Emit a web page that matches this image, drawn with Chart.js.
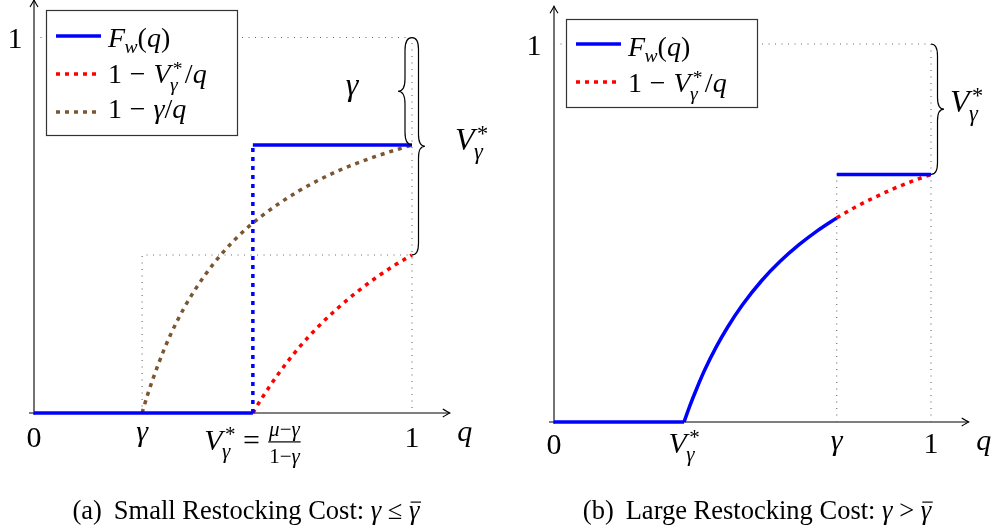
<!DOCTYPE html>
<html>
<head>
<meta charset="utf-8">
<script src="https://cdn.jsdelivr.net/npm/chart.js@4.4.0/dist/chart.umd.min.js"></script>
<style>
  html, body { margin: 0; padding: 0; background: #fff; }
  #wrap { position: relative; width: 992px; height: 532px; }
  canvas { position: absolute; top: 0; }
</style>
</head>
<body>
<div id="wrap">
  <canvas id="panelA" width="496" height="532" style="left:0"></canvas>
  <canvas id="panelB" width="496" height="532" style="left:496px"></canvas>
</div>
<script>
// ---- panel (a): small restocking cost ----
const gammaA = 0.286;
const vStarA = 0.579;
const qFwA = [0, 0.579, 0.579, 1];
const fwA = [0, 0, 0.714, 0.714];
const qRedA = [0.579, 0.60, 0.65, 0.70, 0.75, 0.80, 0.85, 0.90, 0.95, 1.0];
const redA = [0, 0.035, 0.109, 0.173, 0.228, 0.276, 0.319, 0.357, 0.391, 0.421];
const qBrownA = [0.286, 0.30, 0.33, 0.36, 0.40, 0.45, 0.50, 0.55, 0.60, 0.70, 0.80, 0.90, 1.0];
const brownA = [0, 0.047, 0.133, 0.206, 0.285, 0.364, 0.428, 0.480, 0.523, 0.591, 0.643, 0.682, 0.714];
const qGuide1A = [0, 1, 1], guide1A = [1, 1, 0];
const qGuide2A = [0.286, 0.286, 1], guide2A = [0, 0.421, 0.421];

// ---- panel (b): large restocking cost ----
const gammaB = 0.75;
const vStarB = 0.345;
const qFwLowB = [0, 0.345], fwLowB = [0, 0];
const qFwCurveB = [0.345, 0.36, 0.38, 0.40, 0.43, 0.46, 0.50, 0.55, 0.60, 0.65, 0.70, 0.75];
const fwCurveB = [0, 0.042, 0.092, 0.138, 0.198, 0.25, 0.31, 0.373, 0.425, 0.469, 0.507, 0.54];
const qFwHighB = [0.75, 1], fwHighB = [0.655, 0.655];
const qRedB = [0.75, 0.80, 0.85, 0.90, 0.95, 1.0];
const redB = [0.54, 0.569, 0.594, 0.617, 0.637, 0.655];
const qGuide1B = [0, 1, 1], guide1B = [1, 1, 0];
const qGuide2B = [0.75, 0.75], guide2B = [0, 0.655];

const BLUE = '#0000ff', RED = '#ff0000', BROWN = 'rgb(122,86,50)', GUIDE = '#666';
const DOT = [4, 5];
const SERIF = '"Liberation Serif", "DejaVu Serif", serif';

function pts(qs, vs) {
  return qs.map((q, i) => ({ x: q, y: vs[i] }));
}

function setFont(ctx, size, it) {
  ctx.font = (it ? 'italic ' : '') + size + 'px ' + SERIF;
}

// tiny math typesetter: strings are upright, {i:..} italic, {sup,sub}, {num,den}, {bar}, {gap}
function drawRun(ctx, run, x, y, size, paint) {
  let cx = x;
  for (const tk of run) {
    if (typeof tk === 'string' || tk.i !== undefined) {
      const it = typeof tk !== 'string';
      const s = it ? tk.i : tk;
      setFont(ctx, size, it);
      if (paint) ctx.fillText(s, cx, y);
      cx += ctx.measureText(s).width;
    } else if (tk.gap !== undefined) {
      cx += tk.gap * size;
    } else if (tk.num) {
      const s = size * 0.7;
      const wn = drawRun(ctx, tk.num, 0, 0, s, false);
      const wd = drawRun(ctx, tk.den, 0, 0, s, false);
      const w = Math.max(wn, wd) + 0.12 * size;
      const axis = y - 0.27 * size;
      if (paint) {
        drawRun(ctx, tk.num, cx + (w - wn) / 2, axis - 0.2 * size, s, true);
        drawRun(ctx, tk.den, cx + (w - wd) / 2, axis + 0.7 * size, s, true);
        ctx.fillRect(cx + 0.03 * size, axis - 0.02 * size, w - 0.06 * size, Math.max(1, 0.04 * size));
      }
      cx += w;
    } else if (tk.sup || tk.sub) {
      const s = size * 0.7;
      let w = 0;
      if (tk.sup) w = Math.max(w, drawRun(ctx, tk.sup, cx + 0.08 * size, y - 0.3 * size, s, paint) - cx);
      if (tk.sub) w = Math.max(w, drawRun(ctx, tk.sub, cx - 0.02 * size, y + (tk.dy || 0.28) * size, s, paint) - cx);
      cx += w;
    } else if (tk.bar) {
      const x0 = cx;
      cx = drawRun(ctx, tk.bar, cx, y, size, paint);
      if (paint) ctx.fillRect(x0 + 0.06 * size, y - 0.66 * size, cx - x0, Math.max(1, 0.045 * size));
    }
  }
  return cx;
}

function mathText(ctx, run, x, y, size, align) {
  const w = drawRun(ctx, run, 0, 0, size, false);
  const x0 = align === 'center' ? x - w / 2 : x;
  drawRun(ctx, run, x0, y, size, true);
}

function arrowHead(ctx, x, y, dir) {
  ctx.beginPath();
  if (dir === 'r') {
    ctx.moveTo(x - 7, y - 4);
    ctx.quadraticCurveTo(x - 2, y - 1, x, y);
    ctx.quadraticCurveTo(x - 2, y + 1, x - 7, y + 4);
  } else {
    ctx.moveTo(x - 4, y + 7);
    ctx.quadraticCurveTo(x - 1, y + 2, x, y);
    ctx.quadraticCurveTo(x + 1, y + 2, x + 4, y + 7);
  }
  ctx.stroke();
}

function brace(ctx, x, y1, y2, amp) {
  // vertical curly brace, tip points right when amp > 0
  const m = (y1 + y2) / 2, h = amp / 2;
  const r = Math.min(Math.abs(amp) * 0.9, (y2 - y1) / 4);
  ctx.beginPath();
  ctx.moveTo(x, y1);
  ctx.quadraticCurveTo(x + h, y1, x + h, y1 + r);
  ctx.lineTo(x + h, m - r);
  ctx.quadraticCurveTo(x + h, m, x + amp, m);
  ctx.quadraticCurveTo(x + h, m, x + h, m + r);
  ctx.lineTo(x + h, y2 - r);
  ctx.quadraticCurveTo(x + h, y2, x, y2);
  ctx.stroke();
}

function legendBox(ctx, box, rows) {
  ctx.save();
  ctx.fillStyle = '#fff';
  ctx.fillRect(box.x, box.y, box.w, box.h);
  ctx.strokeStyle = '#333';
  ctx.lineWidth = 1.2;
  ctx.strokeRect(box.x + 0.5, box.y + 0.5, box.w, box.h);
  rows.forEach(r => {
    ctx.strokeStyle = r.color;
    ctx.lineWidth = 3.5;
    ctx.setLineDash(r.dash || []);
    ctx.beginPath();
    ctx.moveTo(box.x + 10, r.y);
    ctx.lineTo(box.x + 55, r.y);
    ctx.stroke();
    ctx.setLineDash([]);
    ctx.fillStyle = '#000';
    mathText(ctx, r.text, box.x + 62, r.base, 28, 'left');
  });
  ctx.restore();
}

const V_STAR = [{ i: 'V' }, { sup: ['*'], sub: [{ i: 'γ' }] }];
const FW = [{ i: 'F' }, { sub: [{ i: 'w' }], dy: 0.2 }, '(', { i: 'q' }, ')'];
const RED_TXT = ['1', { gap: 0.28 }, '−', { gap: 0.28 }].concat(V_STAR, [{ gap: 0.08 }, '/', { i: 'q' }]);
const BROWN_TXT = ['1', { gap: 0.28 }, '−', { gap: 0.28 }, { i: 'γ' }, '/', { i: 'q' }];

function makePanel(id, geo, datasets, decorate) {
  const ux = geo.ux, uy = geo.uy;
  return new Chart(document.getElementById(id), {
    type: 'line',
    data: { datasets: datasets },
    options: {
      responsive: false,
      animation: false,
      layout: {
        padding: {
          left: geo.x0,
          right: 496 - geo.x0 - 1.15 * ux,
          top: geo.y0 - 1.1 * uy,
          bottom: 532 - geo.y0
        }
      },
      scales: {
        x: { type: 'linear', min: 0, max: 1.15, display: false },
        y: { type: 'linear', min: 0, max: 1.1, display: false }
      },
      elements: { point: { radius: 0 }, line: { borderCapStyle: 'butt' } },
      plugins: { legend: { display: false }, tooltip: { enabled: false } }
    },
    plugins: [{
      id: 'axes',
      beforeDatasetsDraw(chart) {
        const ctx = chart.ctx, X = chart.scales.x, Y = chart.scales.y;
        const x0 = X.getPixelForValue(0), y0 = Y.getPixelForValue(0);
        const xe = X.getPixelForValue(1.1), ye = Y.getPixelForValue(1.1);
        ctx.save();
        ctx.strokeStyle = '#000';
        ctx.lineWidth = 1.1;
        ctx.beginPath();
        ctx.moveTo(x0 - 5, y0);
        ctx.lineTo(xe, y0);
        ctx.moveTo(x0, y0 + 2);
        ctx.lineTo(x0, ye);
        ctx.stroke();
        arrowHead(ctx, xe, y0, 'r');
        arrowHead(ctx, x0, ye, 'u');
        ctx.restore();
      },
      afterDatasetsDraw(chart) {
        const ctx = chart.ctx, X = chart.scales.x, Y = chart.scales.y;
        ctx.save();
        ctx.fillStyle = '#000';
        ctx.strokeStyle = '#000';
        ctx.textBaseline = 'alphabetic';
        decorate(ctx, v => X.getPixelForValue(v), v => Y.getPixelForValue(v));
        ctx.restore();
      }
    }]
  });
}

function line(data, color, extra) {
  return Object.assign({
    data: data, borderColor: color, borderWidth: 3.5, fill: false,
    pointRadius: 0, tension: 0, clip: false
  }, extra || {});
}

const curve = { cubicInterpolationMode: 'monotone' };
const guide = { borderWidth: 1.1, borderDash: [1, 5.5] };

// panel (a)
makePanel('panelA', { x0: 34, y0: 413, ux: 378, uy: 377 }, [
  line(pts(qFwA, fwA), BLUE, { segment: { borderDash: c => (c.p0DataIndex === 1 ? DOT : undefined) } }),
  line(pts(qRedA, redA), RED, Object.assign({ borderDash: DOT }, curve)),
  line(pts(qBrownA, brownA), BROWN, Object.assign({ borderDash: DOT }, curve)),
  line(pts(qGuide1A, guide1A), GUIDE, guide),
  line(pts(qGuide2A, guide2A), GUIDE, guide)
], (ctx, x, y) => {
  const T = 30, y0 = y(0);
  mathText(ctx, ['0'], x(0), y0 + 34, T, 'center');
  mathText(ctx, [{ i: 'γ' }], x(gammaA), y0 + 28, T, 'center');
  mathText(ctx, V_STAR.concat([{ gap: 0.25 }, '=', { gap: 0.25 },
    { num: [{ i: 'μ' }, '−', { i: 'γ' }], den: ['1−', { i: 'γ' }] }]), x(vStarA), y0 + 37, T, 'center');
  mathText(ctx, ['1'], x(1), y0 + 34, T, 'center');
  mathText(ctx, [{ i: 'q' }], x(1.1) + 15, y0 + 28, T, 'center');
  mathText(ctx, ['1'], x(0) - 19, y(1) + 10, T, 'center');

  ctx.lineWidth = 1.2;
  brace(ctx, x(1), y(1), y(1 - gammaA), -14);
  brace(ctx, x(1), y(1), y(1 - vStarA), 13);
  mathText(ctx, [{ i: 'γ' }], x(1) - 60, (y(1) + y(1 - gammaA)) / 2 + 4, 32, 'center');
  mathText(ctx, V_STAR, x(1) + 43, (y(1) + y(1 - vStarA)) / 2 + 4, 32, 'left');

  legendBox(ctx, { x: 46, y: 10, w: 191, h: 125 }, [
    { color: BLUE, y: 36, base: 47, text: FW },
    { color: RED, dash: DOT, y: 74, base: 83, text: RED_TXT },
    { color: BROWN, dash: DOT, y: 112, base: 118, text: BROWN_TXT }
  ]);

  mathText(ctx, ['(a)', { gap: 0.45 }, 'Small Restocking Cost: ', { i: 'γ' }, ' ≤ ', { bar: [{ i: 'γ' }] }],
    246, 519, 26.5, 'center');
});

// panel (b)
makePanel('panelB', { x0: 58, y0: 422, ux: 377, uy: 378 }, [
  line(pts(qFwLowB, fwLowB), BLUE),
  line(pts(qFwCurveB, fwCurveB), BLUE, curve),
  line(pts(qFwHighB, fwHighB), BLUE),
  line(pts(qRedB, redB), RED, Object.assign({ borderDash: DOT }, curve)),
  line(pts(qGuide1B, guide1B), GUIDE, guide),
  line(pts(qGuide2B, guide2B), GUIDE, guide)
], (ctx, x, y) => {
  const T = 30, y0 = y(0);
  mathText(ctx, ['0'], x(0), y0 + 32, T, 'center');
  mathText(ctx, V_STAR, x(vStarB), y0 + 31, T, 'center');
  mathText(ctx, [{ i: 'γ' }], x(gammaB), y0 + 28, T, 'center');
  mathText(ctx, ['1'], x(1), y0 + 31, T, 'center');
  mathText(ctx, [{ i: 'q' }], x(1.1) + 15, y0 + 28, T, 'center');
  mathText(ctx, ['1'], x(0) - 20, y(1) + 11, T, 'center');

  ctx.lineWidth = 1.2;
  brace(ctx, x(1), y(1), y(1 - vStarB), 13);
  mathText(ctx, V_STAR, x(1) + 19, (y(1) + y(1 - vStarB)) / 2 + 3, 32, 'left');

  legendBox(ctx, { x: 70, y: 19, w: 191, h: 88 }, [
    { color: BLUE, y: 44, base: 56, text: FW },
    { color: RED, dash: DOT, y: 82, base: 92, text: RED_TXT }
  ]);

  mathText(ctx, ['(b)', { gap: 0.45 }, 'Large Restocking Cost: ', { i: 'γ' }, ' > ', { bar: [{ i: 'γ' }] }],
    261, 519, 26.5, 'center');
});
</script>
</body>
</html>
